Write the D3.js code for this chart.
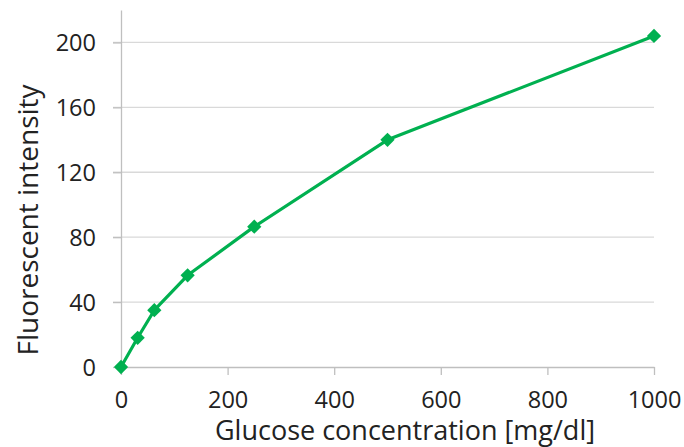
<!DOCTYPE html>
<html>
<head>
<meta charset="utf-8">
<script src="https://cdn.jsdelivr.net/npm/d3@7"></script>
<style>
  body { margin: 0; background: #fff; }
  svg { display: block; font-family: "Open Sans", sans-serif; }
</style>
</head>
<body>
<div id="chart"></div>
<script>
const WIDTH = 684;
const HEIGHT = 447;
const LEFT = 121;
const RIGHT = 654;
const TOP = 10;
const BOTTOM = 367;
const GREEN = "#00b050";

// glucose concentration [mg/dl]
const concentrations = [0, 31.25, 62.5, 125, 250, 500, 1000];
// fluorescent intensity
const intensities = [0, 18, 35, 56.5, 86.5, 140, 204];
const xTicks = [0, 200, 400, 600, 800, 1000];
const yTicks = [0, 40, 80, 120, 160, 200];

const points = concentrations.map((c, i) => ({ x: c, y: intensities[i] }));

const svg = d3.select("#chart")
  .append("svg")
  .attr("width", WIDTH)
  .attr("height", HEIGHT);

const x = d3.scaleLinear().domain([0, 1000]).range([LEFT, RIGHT]);
const y = d3.scaleLinear().domain([0, 220]).range([BOTTOM, TOP]);

// gridlines
svg.append("g")
  .selectAll("line")
  .data(yTicks.filter(d => d > 0))
  .join("line")
  .attr("x1", LEFT - 8)
  .attr("x2", RIGHT)
  .attr("y1", d => y(d))
  .attr("y2", d => y(d))
  .attr("stroke", "#d9d9d9")
  .attr("stroke-width", 1.3);

// axes
const xAxis = svg.append("g")
  .attr("transform", `translate(0,${BOTTOM})`)
  .call(d3.axisBottom(x).tickValues(xTicks).tickFormat(d3.format("d"))
    .tickSize(8).tickPadding(16).tickSizeOuter(0));
const yAxis = svg.append("g")
  .attr("transform", `translate(${LEFT},0)`)
  .call(d3.axisLeft(y).tickValues(yTicks).tickSize(8).tickPadding(17).tickSizeOuter(0));

[xAxis, yAxis].forEach(g => {
  g.select(".domain").attr("stroke", "#bfbfbf").attr("stroke-width", 1.3);
  g.selectAll(".tick line").attr("stroke", "#bfbfbf").attr("stroke-width", 1.3);
  g.selectAll("text")
    .attr("fill", "#222")
    .style("font-size", "23.5px")
    .style("font-family", "'Open Sans', sans-serif");
});
yAxis.selectAll("text").attr("dy", "0.35em");

// series
const line = d3.line().x(d => x(d.x)).y(d => y(d.y));
svg.append("path")
  .datum(points)
  .attr("d", line)
  .attr("fill", "none")
  .attr("stroke", GREEN)
  .attr("stroke-width", 3.2)
  .attr("stroke-linejoin", "round");

svg.append("g")
  .selectAll("path")
  .data(points)
  .join("path")
  .attr("transform", d => `translate(${x(d.x)},${y(d.y)})`)
  .attr("d", d3.symbol(d3.symbolDiamond2, 130))
  .attr("fill", GREEN);

// titles
svg.append("text")
  .attr("x", 405)
  .attr("y", 440)
  .attr("text-anchor", "middle")
  .attr("fill", "#222")
  .style("font-size", "27px")
  .text("Glucose concentration [mg/dl]");

svg.append("text")
  .attr("transform", "translate(38,220) rotate(-90)")
  .attr("text-anchor", "middle")
  .attr("fill", "#222")
  .style("font-size", "28px")
  .text("Fluorescent intensity");
</script>
</body>
</html>
